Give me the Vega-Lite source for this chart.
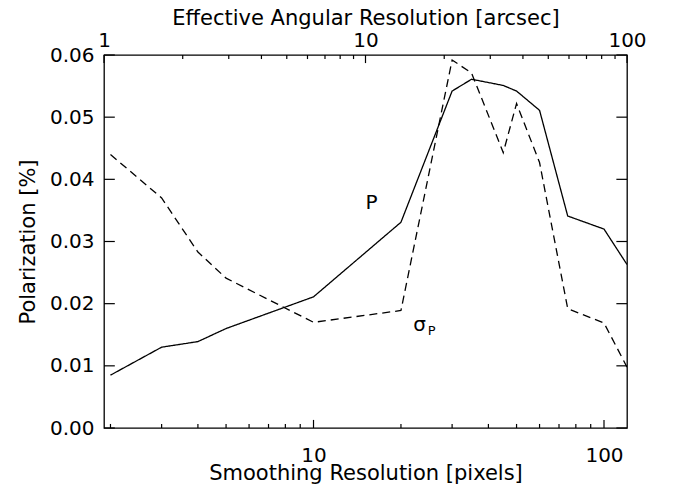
{
  "$schema": "https://vega.github.io/schema/vega-lite/v6.json",
  "width": 523,
  "height": 373,
  "autosize": {"type": "none"},
  "padding": {"left": 104, "top": 55, "right": 46, "bottom": 57},
  "background": "white",
  "config": {
    "view": {"stroke": "black", "strokeWidth": 1.3},
    "font": "DejaVu Sans",
    "axis": {
      "labelFont": "DejaVu Sans",
      "labelFontSize": 20,
      "labelColor": "black",
      "titleFont": "DejaVu Sans",
      "titleFontSize": 21,
      "titleFontWeight": "normal",
      "titleColor": "black",
      "ticks": false,
      "tickSize": 0,
      "domain": false,
      "grid": false,
      "labelFlush": false,
      "labelOverlap": false
    }
  },
  "datasets": {
    "curves": [
      {"series": "P", "pix": 2, "pol": 0.0085},
      {"series": "P", "pix": 3, "pol": 0.0130},
      {"series": "P", "pix": 4, "pol": 0.0139},
      {"series": "P", "pix": 5, "pol": 0.0160},
      {"series": "P", "pix": 10, "pol": 0.0211},
      {"series": "P", "pix": 20, "pol": 0.0331},
      {"series": "P", "pix": 30, "pol": 0.0542},
      {"series": "P", "pix": 35, "pol": 0.0561},
      {"series": "P", "pix": 45, "pol": 0.0551},
      {"series": "P", "pix": 50, "pol": 0.0542},
      {"series": "P", "pix": 60, "pol": 0.0511},
      {"series": "P", "pix": 75, "pol": 0.0341},
      {"series": "P", "pix": 100, "pol": 0.0320},
      {"series": "P", "pix": 120, "pol": 0.0263},
      {"series": "sigma", "pix": 2, "pol": 0.0440},
      {"series": "sigma", "pix": 3, "pol": 0.0370},
      {"series": "sigma", "pix": 4, "pol": 0.0283},
      {"series": "sigma", "pix": 5, "pol": 0.0241},
      {"series": "sigma", "pix": 10, "pol": 0.0170},
      {"series": "sigma", "pix": 20, "pol": 0.0189},
      {"series": "sigma", "pix": 30, "pol": 0.0592},
      {"series": "sigma", "pix": 35, "pol": 0.0571},
      {"series": "sigma", "pix": 45, "pol": 0.0443},
      {"series": "sigma", "pix": 50, "pol": 0.0522},
      {"series": "sigma", "pix": 60, "pol": 0.0427},
      {"series": "sigma", "pix": 75, "pol": 0.0192},
      {"series": "sigma", "pix": 100, "pol": 0.0169},
      {"series": "sigma", "pix": 120, "pol": 0.0098}
    ],
    "labels": [
      {"name": "P", "pix": 15.85, "pol": 0.0362},
      {"name": "sigma", "pix": 23.2, "pol": 0.0166}
    ],
    "arcsec": [
      {"arc": 1}, {"arc": 10}, {"arc": 100}
    ],
    "majorTicks": [{"v": 10}, {"v": 100}],
    "minorTicks": [
      {"v": 2}, {"v": 3}, {"v": 4}, {"v": 5}, {"v": 6}, {"v": 7}, {"v": 8}, {"v": 9},
      {"v": 20}, {"v": 30}, {"v": 40}, {"v": 50}, {"v": 60}, {"v": 70}, {"v": 80}, {"v": 90}
    ],
    "topMajorTicks": [{"v": 1}, {"v": 10}, {"v": 100}],
    "yTicks": [{"v": 0}, {"v": 0.01}, {"v": 0.02}, {"v": 0.03}, {"v": 0.04}, {"v": 0.05}, {"v": 0.06}]
  },
  "layer": [
    {
      "data": {"name": "curves"},
      "mark": {"type": "line", "color": "black", "strokeWidth": 1.3, "clip": true},
      "encoding": {
        "x": {
          "field": "pix", "type": "quantitative",
          "scale": {"type": "log", "domain": [1.9, 120], "nice": false},
          "axis": {
            "orient": "bottom", "values": [10, 100], "format": "d",
            "labelPadding": 17,
            "title": "Smoothing Resolution [pixels]", "titlePadding": -3
          }
        },
        "y": {
          "field": "pol", "type": "quantitative",
          "scale": {"domain": [0, 0.06], "nice": false, "zero": false},
          "axis": {
            "orient": "left", "values": [0, 0.01, 0.02, 0.03, 0.04, 0.05, 0.06],
            "format": ".2f", "labelPadding": 10,
            "title": "Polarization [%]", "titlePadding": 11
          }
        },
        "strokeDash": {
          "field": "series", "type": "nominal",
          "scale": {"domain": ["P", "sigma"], "range": [[1, 0], [8, 5]]},
          "legend": null
        }
      }
    },
    {
      "data": {"name": "arcsec"},
      "mark": {"type": "point", "opacity": 0},
      "encoding": {
        "x": {
          "field": "arc", "type": "quantitative",
          "scale": {"type": "log", "domain": [1, 100], "nice": false},
          "axis": {
            "orient": "top", "values": [1, 10, 100], "format": "d",
            "labelPadding": 5,
            "title": "Effective Angular Resolution [arcsec]", "titlePadding": 2
          }
        }
      }
    },
    {
      "data": {"name": "majorTicks"},
      "mark": {"type": "rule", "color": "black", "strokeWidth": 1.2, "opacity": 1},
      "encoding": {
        "x": {"field": "v", "type": "quantitative", "scale": {"type": "log", "domain": [1.9, 120], "nice": false}, "axis": null},
        "y": {"datum": 0, "type": "quantitative", "scale": {"domain": [0, 0.06], "nice": false, "zero": false}, "axis": null},
        "y2": {"datum": 0.0013}
      }
    },
    {
      "data": {"name": "minorTicks"},
      "mark": {"type": "rule", "color": "black", "strokeWidth": 1.2, "opacity": 1},
      "encoding": {
        "x": {"field": "v", "type": "quantitative", "scale": {"type": "log", "domain": [1.9, 120], "nice": false}, "axis": null},
        "y": {"datum": 0, "type": "quantitative", "scale": {"domain": [0, 0.06], "nice": false, "zero": false}, "axis": null},
        "y2": {"datum": 0.00065}
      }
    },
    {
      "data": {"name": "topMajorTicks"},
      "mark": {"type": "rule", "color": "black", "strokeWidth": 1.2, "opacity": 1},
      "encoding": {
        "x": {"field": "v", "type": "quantitative", "scale": {"type": "log", "domain": [1, 100], "nice": false}, "axis": null},
        "y": {"datum": 0.06, "type": "quantitative", "scale": {"domain": [0, 0.06], "nice": false, "zero": false}, "axis": null},
        "y2": {"datum": 0.0587}
      }
    },
    {
      "data": {"name": "minorTicks"},
      "mark": {"type": "rule", "color": "black", "strokeWidth": 1.2, "opacity": 1},
      "encoding": {
        "x": {"field": "v", "type": "quantitative", "scale": {"type": "log", "domain": [1, 100], "nice": false}, "axis": null},
        "y": {"datum": 0.06, "type": "quantitative", "scale": {"domain": [0, 0.06], "nice": false, "zero": false}, "axis": null},
        "y2": {"datum": 0.05935}
      }
    },
    {
      "data": {"name": "yTicks"},
      "mark": {"type": "rule", "color": "black", "strokeWidth": 1.2, "opacity": 1},
      "encoding": {
        "x": {"datum": 1.9, "type": "quantitative", "scale": {"type": "log", "domain": [1.9, 120], "nice": false}, "axis": null},
        "x2": {"datum": 2.07},
        "y": {"field": "v", "type": "quantitative", "scale": {"domain": [0, 0.06], "nice": false, "zero": false}, "axis": null}
      }
    },
    {
      "data": {"name": "yTicks"},
      "mark": {"type": "rule", "color": "black", "strokeWidth": 1.2, "opacity": 1},
      "encoding": {
        "x": {"datum": 120, "type": "quantitative", "scale": {"type": "log", "domain": [1.9, 120], "nice": false}, "axis": null},
        "x2": {"datum": 110.3},
        "y": {"field": "v", "type": "quantitative", "scale": {"domain": [0, 0.06], "nice": false, "zero": false}, "axis": null}
      }
    },
    {
      "data": {"name": "labels"},
      "transform": [{"filter": "datum.name === 'P'"}],
      "mark": {"type": "text", "text": "P", "font": "DejaVu Sans", "fontSize": 20, "color": "black"},
      "encoding": {
        "x": {"field": "pix", "type": "quantitative", "scale": {"type": "log", "domain": [1.9, 120], "nice": false}, "axis": null},
        "y": {"field": "pol", "type": "quantitative", "scale": {"domain": [0, 0.06], "nice": false, "zero": false}, "axis": null}
      }
    },
    {
      "data": {"name": "labels"},
      "transform": [{"filter": "datum.name === 'sigma'"}],
      "mark": {"type": "text", "text": "σ", "font": "DejaVu Sans", "fontSize": 20, "color": "black"},
      "encoding": {
        "x": {"field": "pix", "type": "quantitative", "scale": {"type": "log", "domain": [1.9, 120], "nice": false}, "axis": null},
        "y": {"field": "pol", "type": "quantitative", "scale": {"domain": [0, 0.06], "nice": false, "zero": false}, "axis": null}
      }
    },
    {
      "data": {"name": "labels"},
      "transform": [{"filter": "datum.name === 'sigma'"}],
      "mark": {"type": "text", "text": "P", "font": "DejaVu Sans", "fontSize": 13, "color": "black", "dx": 12, "dy": 6},
      "encoding": {
        "x": {"field": "pix", "type": "quantitative", "scale": {"type": "log", "domain": [1.9, 120], "nice": false}, "axis": null},
        "y": {"field": "pol", "type": "quantitative", "scale": {"domain": [0, 0.06], "nice": false, "zero": false}, "axis": null}
      }
    }
  ],
  "resolve": {
    "scale": {"x": "independent"},
    "axis": {"x": "independent", "y": "independent"}
  }
}
